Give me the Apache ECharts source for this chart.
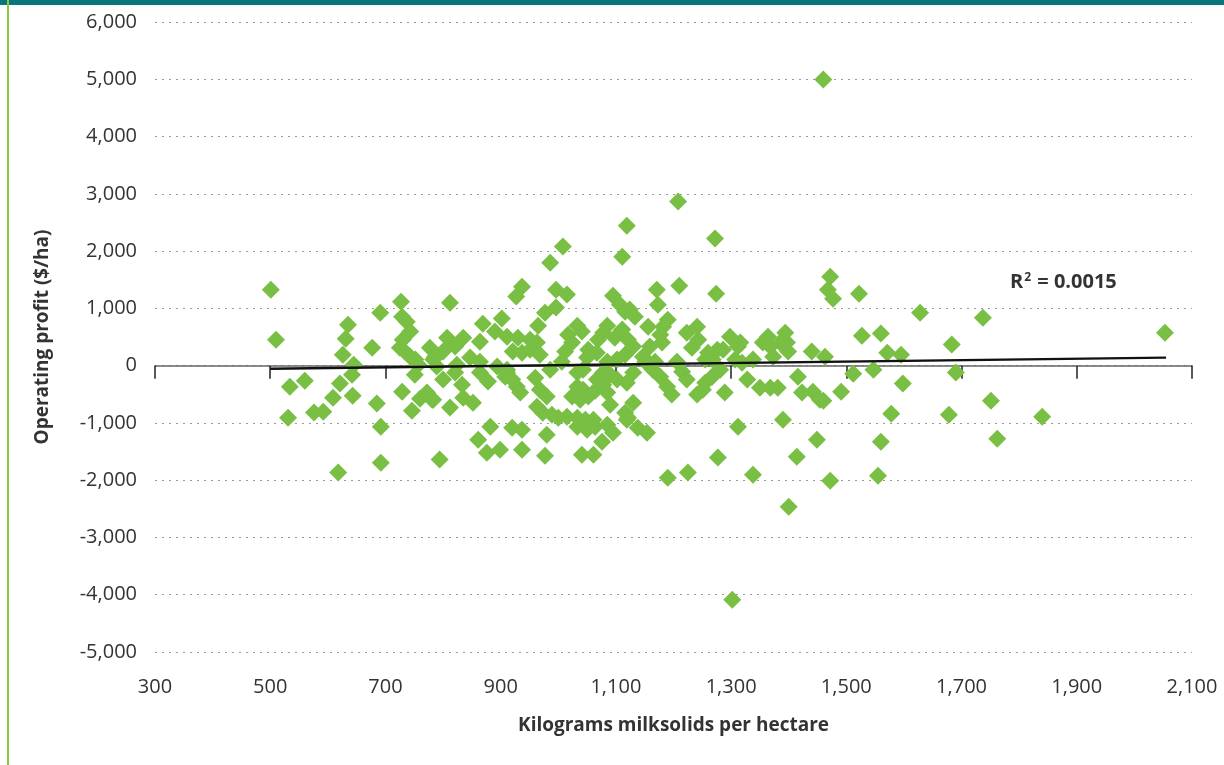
<!DOCTYPE html>
<html>
<head>
<meta charset="utf-8">
<script src="https://cdn.jsdelivr.net/npm/echarts@6/dist/echarts.min.js"></script>
<style>
  html, body { margin: 0; padding: 0; background: #ffffff; }
  #chart { width: 1224px; height: 765px; }
</style>
</head>
<body>
<div id="chart"></div>
<script>
// Farm points: [kilograms milksolids per hectare, operating profit $/ha]
const farmPoints = [
  [501,1327],[510,454],[534,-367],[560,-262],[531,-908],[576,-820],[592,-803],[609,-559],[621,-314],[618,-1868],
  [635,716],[631,471],[626,192],[645,17],[642,-157],[643,-524],[677,314],[691,925],[685,-663],[692,-1065],
  [692,-1694],[727,1117],[729,855],[737,768],[743,594],[730,454],[725,314],[734,244],[743,157],[752,105],
  [757,17],[751,-157],[729,-454],[746,-786],[760,-576],[772,-471],[781,-594],[777,314],[783,105],[789,-17],
  [794,-1641],
  [1119,2444],[1111,1903],[1008,2078],[986,1798],[937,1379],[927,1205],[996,1327],[1015,1240],[1095,1222],
  [1107,1065],[1116,943],[977,925],[996,1013],[812,1100],[869,733],[902,821],[965,698],[1033,698],[1041,594],
  [1085,698],[1078,576],[1069,454],[1098,489],[1111,629],[807,489],[835,489],[821,332],[864,419],[890,594],
  [911,506],[930,489],[951,454],[963,402],[921,245],[937,227],[951,279],[968,192],[1017,541],[1024,402],
  [1012,245],[1052,279],[1050,140],[1067,227],[786,157],[800,245],[847,140],[864,70],[894,-17],[911,-70],
  [986,-70],[1006,70],[1085,70],[1102,105],[1116,192],[824,17],[800,-244],[783,-594],[833,-332],[835,-559],
  [852,-646],[812,-733],[864,-122],[878,-279],[911,-122],[920,-244],[928,-367],[934,-471],[960,-210],[968,-419],
  [980,-541],[963,-716],[973,-821],[989,-856],[1000,-908],[1015,-891],[1033,-367],[1043,-419],[1024,-541],[1038,-594],
  [1052,-541],[1067,-244],[1078,-122],[1090,-157],[1102,-244],[1078,-332],[1085,-471],[1090,-681],[1033,-908],[1047,-943],
  [1061,-943],[1033,-1065],[1050,-1118],[1064,-1065],[1085,-1030],[1095,-1170],[1116,-821],[1119,-943],
  [882,-1065],[861,-1292],[876,-1519],[899,-1467],[920,-1083],[937,-1118],[937,-1467],[980,-1205],[977,-1572],
  [1041,-1554],[1061,-1554],[1076,-1327],
  [821,-122],[908,-192],[1033,-122],[1043,-70],[1064,-440],[1121,454],[1130,332],
  [1208,2864],[1272,2218],[1171,1327],[1210,1397],[1173,1065],[1274,1257],[1124,978],[1133,855],[1156,681],
  [1182,681],[1190,803],[1177,541],[1180,402],[1223,576],[1241,681],[1243,454],[1232,314],[1159,332],[1147,157],
  [1168,70],[1260,227],[1276,279],[1286,279],[1298,506],[1312,332],[1255,105],[1268,105],[1338,105],[1364,506],
  [1355,402],[1368,332],[1394,576],[1385,402],[1397,402],[1399,245],[1373,157],[1440,245],[1206,70],[1215,-105],
  [1223,-244],[1164,-70],[1177,-192],[1189,-367],[1197,-506],[1130,-122],[1119,-297],[1241,-506],[1255,-297],
  [1267,-192],[1289,-471],[1328,-244],[1350,-384],[1368,-384],[1381,-384],[1416,-192],[1423,-471],[1442,-454],
  [1454,-594],[1130,-646],[1121,-908],[1138,-1083],[1154,-1170],[1312,-1065],[1390,-943],[1277,-1606],[1414,-1589],
  [1190,-1956],[1225,-1868],[1338,-1903],[1449,-1292],
  [1316,402],[1307,105],[1319,52],[1151,70],[1251,-419],[1281,-70],
  [1472,1554],[1468,1327],[1477,1170],[1522,1257],[1628,925],[1737,838],[1527,524],[1560,559],[1571,227],
  [1595,192],[1463,157],[1683,367],[1512,-140],[1547,-70],[1690,-122],[1598,-314],[1460,-611],[1491,-454],
  [1578,-838],[1678,-856],[1751,-611],[1560,-1327],[1762,-1275],[1472,-2008],[1555,-1921],
  [2053,576],[1840,-891],
  [1460,4994],[1302,-4086],[1400,-2462]
];

// Linear trend line end points
const trendLine = [[500,-55],[2055,140]];
const trendLabel = '0.0015';

// Axis ranges
const xRange = { min: 300, max: 2100, interval: 200 };
const yRange = { min: -5000, max: 6000, interval: 1000 };

const xTitle = 'Kilograms milksolids per hectare';
const yTitle = 'Operating profit ($/ha)';

const fmt = v => Number(v).toLocaleString('en-US');
const FONT = '"Open Sans", "Noto Sans", sans-serif';

const chart = echarts.init(document.getElementById('chart'), null, { renderer: 'canvas' });

chart.setOption({
  backgroundColor: '#ffffff',
  animation: false,
  textStyle: { fontFamily: FONT },
  grid: { left: 155, right: 32, top: 22, bottom: 113, containLabel: false },
  xAxis: [
    {
      type: 'value',
      min: xRange.min, max: xRange.max, interval: xRange.interval,
      position: 'bottom',
      axisLine: { show: false, onZero: false },
      axisTick: { show: false },
      splitLine: { show: false },
      axisLabel: { margin: 25, color: '#333333', fontSize: 20, fontFamily: FONT, formatter: fmt },
      name: xTitle,
      nameLocation: 'middle',
      nameGap: 64,
      nameTextStyle: { color: '#333333', fontSize: 19, fontWeight: 'bold', fontFamily: FONT }
    },
    {
      type: 'value',
      min: xRange.min, max: xRange.max, interval: xRange.interval,
      position: 'bottom',
      axisLine: { show: true, onZero: true, lineStyle: { color: '#666666', width: 1.5 } },
      axisTick: { show: true, inside: false, length: 13, lineStyle: { color: '#222222', width: 1.5 } },
      axisLabel: { show: false },
      splitLine: { show: false }
    }
  ],
  yAxis: {
    type: 'value',
    min: yRange.min, max: yRange.max, interval: yRange.interval,
    axisLine: { show: false },
    axisTick: { show: false },
    axisLabel: { margin: 18, color: '#333333', fontSize: 20, fontFamily: FONT, formatter: fmt },
    splitLine: { show: true, lineStyle: { color: '#9a9a9a', type: [2, 5], width: 1.2 } },
    name: yTitle,
    nameLocation: 'middle',
    nameGap: 103,
    nameRotate: 90,
    nameTextStyle: { color: '#333333', fontSize: 19, fontWeight: 'bold', fontFamily: FONT }
  },
  series: [
    {
      type: 'scatter',
      xAxisIndex: 0,
      symbol: 'diamond',
      symbolSize: [18, 18],
      itemStyle: { color: '#78bf44', opacity: 1 },
      data: farmPoints,
      z: 2
    },
    {
      type: 'line',
      xAxisIndex: 0,
      data: trendLine,
      showSymbol: false,
      symbol: 'none',
      lineStyle: { color: '#111111', width: 2.4 },
      z: 3
    }
  ],
  graphic: [
    { type: 'rect', left: 0, top: 0, shape: { width: 1224, height: 5 }, style: { fill: '#08767b' }, z: 10 },
    { type: 'rect', left: 7, top: 0, shape: { width: 2, height: 765 }, style: { fill: '#8dc63f' }, z: 10 },
    {
      type: 'text',
      left: 1010,
      top: 272,
      z: 10,
      style: {
        text: '{b|R}{s|2}{b| = ' + trendLabel + '}',
        rich: {
          b: { fontSize: 20, fontWeight: 'bold', fill: '#333333', fontFamily: FONT, verticalAlign: 'bottom' },
          s: { fontSize: 12, fontWeight: 'bold', fill: '#333333', fontFamily: FONT, verticalAlign: 'top', padding: [0, 1, 8, 1] }
        }
      }
    }
  ]
});
</script>
</body>
</html>
